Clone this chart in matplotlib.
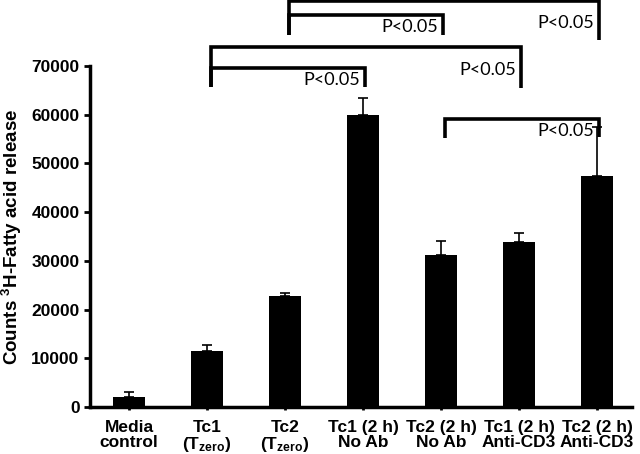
import matplotlib.pyplot as plt
import numpy as np

plt.rcParams['font.family'] = 'Liberation Sans'
plt.rcParams['mathtext.fontset'] = 'custom'
plt.rcParams['mathtext.rm'] = 'Liberation Sans:bold'
plt.rcParams['mathtext.bf'] = 'Liberation Sans:bold'
plt.rcParams['mathtext.default'] = 'bf'

# data
labels = ["Media\ncontrol", "Tc1\n(T$_{zero}$)", "Tc2\n(T$_{zero}$)",
          "Tc1 (2 h)\nNo Ab", "Tc2 (2 h)\nNo Ab", "Tc1 (2 h)\nAnti-CD3",
          "Tc2 (2 h)\nAnti-CD3"]
values = [2000, 11600, 22800, 59900, 31300, 33800, 47500]
errors = [1000, 1100, 700, 3600, 2700, 2000, 10000]

# significance brackets: left bar, right bar, top, left leg end, right leg end
br_left = [1, 1, 2, 2, 4]
br_right = [3, 5, 4, 6, 6]
br_top = [69600, 73900, 80500, 83400, 59100]
br_lbot = [65700, 65700, 76400, 76400, 55200]
br_rbot = [65700, 65500, 76400, 75300, 55400]
br_text = "P<0.05"

fig = plt.figure(figsize=(6.4, 4.54), dpi=100)
ax = fig.add_axes([0.1406, 0.1035, 0.847, 0.751])

x = np.arange(len(values))
ax.bar(x, values, width=0.41, color="black")
ax.errorbar(x, values, yerr=[np.zeros(len(errors)), errors], fmt="none",
            ecolor="black", elinewidth=1.2, capsize=3.5, capthick=1.2)

for i in range(len(br_left)):
    xl = br_left[i] + 0.05
    xr = br_right[i] + 0.03
    ax.plot([xl, xl, xr, xr], [br_lbot[i], br_top[i], br_top[i], br_rbot[i]],
            color="black", lw=2.6, clip_on=False, solid_capstyle="butt",
            solid_joinstyle="miter")
    ymid = (br_top[i] + min(br_lbot[i], br_rbot[i])) / 2
    ax.text(xr - 0.07, ymid - 500, br_text, ha="right", va="center",
            fontsize=13, family="Lato", clip_on=False)

ax.set_xlim(-0.5, 6.45)
ax.set_ylim(0, 70000)
ax.set_yticks(np.arange(0, 70001, 10000))
ax.set_xticks(x)
ax.set_xticklabels(labels, fontsize=12.5, fontweight="bold", linespacing=0.95)
ax.tick_params(axis="y", labelsize=12.5, width=2, length=4, direction="out")
ax.tick_params(axis="x", width=2, length=2.5, direction="out", pad=7)
for lab in ax.get_yticklabels():
    lab.set_fontweight("bold")

for s in ["top", "right"]:
    ax.spines[s].set_visible(False)
for s in ["left", "bottom"]:
    ax.spines[s].set_linewidth(2.5)

ax.set_ylabel("Counts $^{3}$H-Fatty acid release", fontsize=13.5,
              fontweight="bold", labelpad=5)

fig.savefig("out.png", dpi=100)
